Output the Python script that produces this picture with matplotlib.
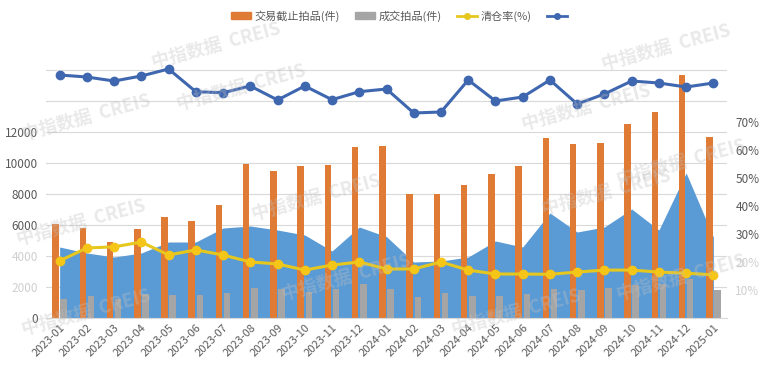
import matplotlib
matplotlib.use("Agg")
import matplotlib.pyplot as plt
from matplotlib.lines import Line2D
from matplotlib.patches import Patch
import numpy as np

plt.rcParams['font.family'] = ['Noto Sans CJK SC', 'DejaVu Sans']

months = ['2023-01', '2023-02', '2023-03', '2023-04', '2023-05', '2023-06', '2023-07',
          '2023-08', '2023-09', '2023-10', '2023-11', '2023-12', '2024-01', '2024-02',
          '2024-03', '2024-04', '2024-05', '2024-06', '2024-07', '2024-08', '2024-09',
          '2024-10', '2024-11', '2024-12', '2025-01']
deadline_lots = [6065, 5806, 4900, 5742, 6516, 6258, 7290, 9935, 9484, 9806, 9871, 11032,
                 11097, 8000, 8000, 8581, 9290, 9806, 11613, 11226, 11290, 12516, 13290,
                 15677, 11677]
sold_lots = [1226, 1420, 1226, 1548, 1484, 1484, 1613, 1935, 1871, 1677, 1871, 2194,
             1900, 1355, 1613, 1420, 1420, 1548, 1871, 1806, 1935, 2129, 2194, 2516, 1806]
clear_rate = [20.4, 25.0, 25.4, 27.1, 22.5, 24.3, 22.5, 20.0, 19.3, 17.1, 18.9, 20.0,
              17.5, 17.5, 20.0, 17.1, 15.7, 15.7, 15.6, 16.4, 17.1, 17.1, 16.4, 16.0, 15.4]
area_series = [4581, 4194, 3935, 4194, 4903, 4903, 5806, 5935, 5677, 5355, 4323, 5871,
               5250, 3613, 3677, 3935, 4968, 4581, 6774, 5548, 5871, 7032, 5677, 9355, 5226]
top_series = [15677, 15548, 15290, 15613, 16065, 14600, 14535, 14968, 14065, 14968, 14084,
              14600, 14774, 13226, 13290, 15355, 14000, 14258, 15355, 13806, 14452, 15290,
              15161, 14903, 15161]
left_ticks = [0, 2000, 4000, 6000, 8000, 10000, 12000]
right_ticks = [10, 20, 30, 40, 50, 60, 70]

W, H = 770, 367
fig = plt.figure(figsize=(W / 100, H / 100), dpi=100)
ax = fig.add_axes([46 / W, (H - 318) / H, (727 - 46) / W, (318 - 39) / H])

x = np.arange(len(months))
ax.fill_between(x, 0, area_series, color='#5B9BD5', linewidth=0, zorder=1)
ax.bar(x - 0.15, deadline_lots, width=0.24, color='#E07B35', zorder=2)
ax.bar(x + 0.15, sold_lots, width=0.24, color='#A5A5A5', zorder=2)
ax.plot(x, top_series, color='#3F67B0', linewidth=2.2, marker='o', markersize=6, zorder=4)

ax.set_xlim(-0.5, len(months) - 0.5)
ax.set_ylim(0, 18000)
ax.set_yticks(range(0, 18000, 2000))
ax.set_yticklabels([str(v) if v in left_ticks else '' for v in range(0, 18000, 2000)])
for lbl, v in zip(ax.get_yticklabels(), range(0, 18000, 2000)):
    lbl.set_color('#cfcfcf' if v in (2000, 4000) else '#595959')
ax.grid(axis='y', color='#D9D9D9', linewidth=0.8, zorder=0)
ax.set_axisbelow(True)
ax.tick_params(axis='y', length=0, labelsize=8.5, pad=6)
ax.set_xticks(x)
ax.set_xticklabels(months, rotation=45, ha='right', rotation_mode='anchor',
                   fontsize=8, color='#595959')
ax.tick_params(axis='x', length=0, pad=3)
for s in ['top', 'right', 'left']:
    ax.spines[s].set_visible(False)
ax.spines['bottom'].set_color('#D9D9D9')

ax2 = ax.twinx()
ax2.plot(x, clear_rate, color='#E5C71E', linewidth=2.2, marker='o', markersize=6,
         markerfacecolor='#F5C518', markeredgecolor='#F5C518', zorder=5)
ax2.set_ylim(0, 99.6)
ax2.set_yticks(right_ticks)
ax2.set_yticklabels([f'{v}%' for v in right_ticks])
for lbl, v in zip(ax2.get_yticklabels(), right_ticks):
    lbl.set_color('#cfcfcf' if v < 30 else '#595959')
ax2.tick_params(axis='y', length=0, labelsize=8.5, pad=6)
for s in ax2.spines.values():
    s.set_visible(False)

handles = [Patch(color='#E07B35'), Patch(color='#A5A5A5'),
           Line2D([], [], color='#E5C71E', marker='o', markersize=4, linewidth=2),
           Line2D([], [], color='#3F67B0', marker='o', markersize=4, linewidth=2)]
labels = ['交易截止拍品(件)', '成交拍品(件)', '清仓率(%)', ' ']
fig.legend(handles, labels, loc='center', bbox_to_anchor=(402 / W, 1 - 16 / H), ncol=4,
           frameon=False, fontsize=8, labelcolor='#595959', handlelength=1.8,
           handleheight=0.6, columnspacing=1.4, handletextpad=0.3)

wm = [(20, 140), (175, 110), (150, 68), (600, 70), (520, 130), (15, 245), (250, 220),
      (540, 215), (615, 185), (20, 335), (280, 300), (450, 335), (615, 300)]
for px, py in wm:
    fig.text(px / W, 1 - py / H, '中指数据  CREIS', fontsize=13, color='#c0c0c0', alpha=0.35,
             rotation=15, fontweight='bold', zorder=10)

fig.savefig('out.png', dpi=100)
